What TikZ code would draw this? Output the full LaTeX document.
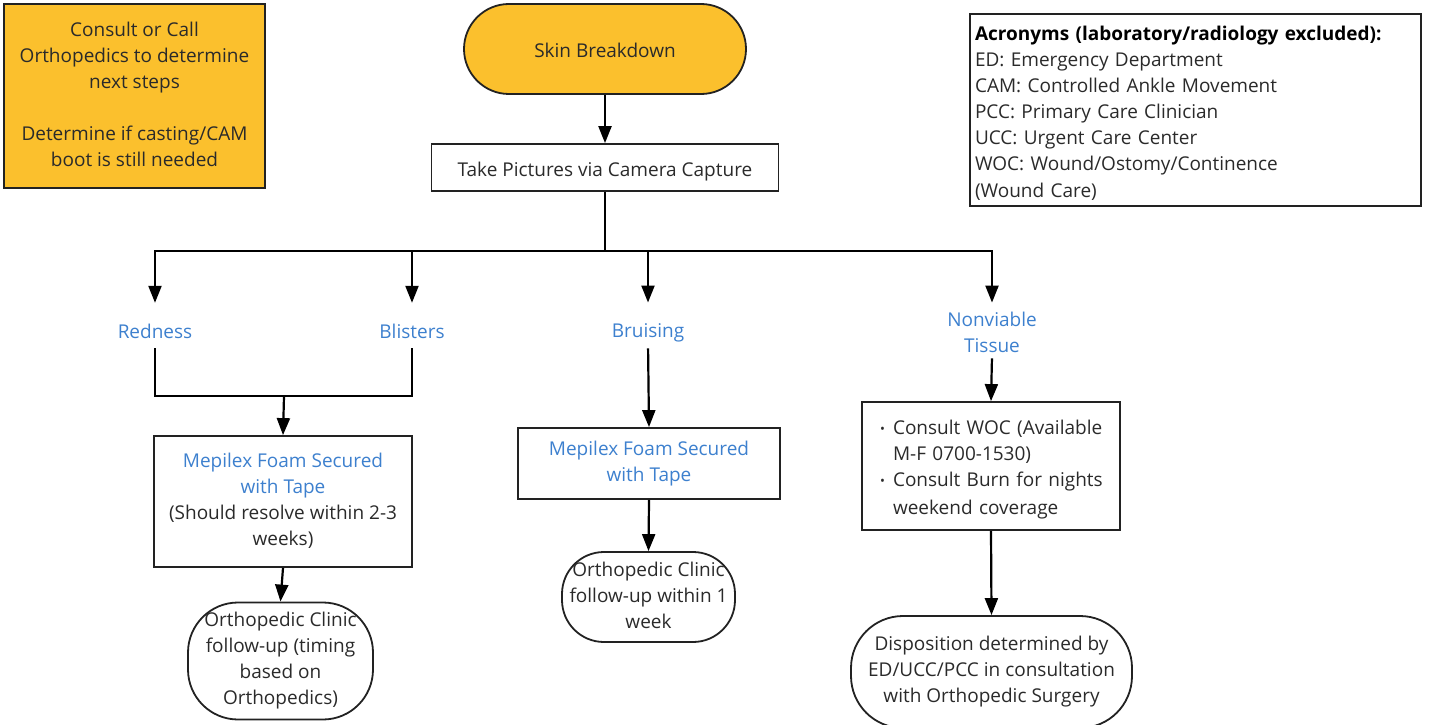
\documentclass[tikz,border=0pt]{standalone}
\usepackage{fontspec}
\setmainfont{Open Sans}
\usetikzlibrary{arrows.meta}
\definecolor{orng}{HTML}{FBC02D}
\definecolor{blu}{HTML}{3D80CE}
\definecolor{txt}{HTML}{2A2A2A}
\definecolor{edge}{HTML}{222222}
\newcommand{\skstrut}{\rule[-4pt]{0pt}{26pt}}
\newcommand{\bl}[1]{\textcolor{blu}{#1}}
\newcommand{\bul}{\hspace*{4pt}\makebox[13pt][l]{\raisebox{1.5pt}{\fontsize{13}{13}\selectfont •}}}
\newcommand{\ind}{\hspace*{17pt}}
\begin{document}
\begin{tikzpicture}[x=1pt,y=-1pt,
  every node/.style={font=\fontsize{19}{26}\selectfont, text=txt,
    execute at begin node=\skstrut, execute at end node=\skstrut},
  box/.style={draw=edge, line width=1.8pt, align=center, inner sep=0pt},
  lbl/.style={text=blu, align=center, inner sep=0pt},
  ln/.style={line width=2.2pt, draw=black},
  arr/.style={ln, -{Triangle[width=13pt,length=17pt]}}]
\useasboundingbox (0,0) rectangle (1429,725);

% top-left note
\node[box, fill=orng, minimum width=261pt, minimum height=184pt] (consult) at (134.5,96)
  {Consult or Call\\Orthopedics to determine\\next steps\\[26pt]Determine if casting/CAM\\boot is still needed};

% acronyms
\node[box, minimum width=451pt, minimum height=192pt, text width=441pt, align=left] (acr) at (1195.5,110)
  {\textbf{\color{black}Acronyms (laboratory/radiology excluded):}\\ED: Emergency Department\\CAM: Controlled Ankle Movement\\PCC: Primary Care Clinician\\UCC: Urgent Care Center\\WOC: Wound/Ostomy/Continence\\(Wound Care)};

% main flow
\node[box, fill=orng, rounded corners=45pt, minimum width=282pt, minimum height=90pt] (skin) at (605,49) {Skin Breakdown};
\node[box, minimum width=347pt, minimum height=47pt] (take) at (605,167.5) {Take Pictures via Camera Capture};

\coordinate (br) at (605,251);

\node[lbl] (red) at (155,329) {Redness};
\node[lbl] (blis) at (412,329) {Blisters};
\node[lbl] (brui) at (648,329) {Bruising};
\node[lbl] (nonv) at (992,334) {Nonviable\\Tissue};

\coordinate (mrg) at (284,396);

\node[box, minimum width=258pt, minimum height=131pt] (mep1) at (283,501.5)
  {\bl{Mepilex Foam Secured}\\\bl{with Tape}\\(Should resolve within 2-3\\weeks)};
\node[box, rounded corners=50pt, minimum width=185pt, minimum height=117pt] (orth1) at (280.5,661)
  {Orthopedic Clinic\\follow-up (timing\\based on\\Orthopedics)};

\node[box, minimum width=262pt, minimum height=71pt] (mep2) at (649,463.5)
  {\bl{Mepilex Foam Secured}\\\bl{with Tape}};
\node[box, rounded corners=42pt, minimum width=173pt, minimum height=90pt] (orth2) at (648.5,597)
  {Orthopedic Clinic\\follow-up within 1\\week};

\node[box, minimum width=258pt, minimum height=128pt, text width=230pt, align=left] (woc) at (991,466)
  {\bul Consult WOC (Available\\\ind M-F 0700-1530)\\\bul Consult Burn for nights\\\ind weekend coverage};
\node[box, rounded corners=52pt, minimum width=281pt, minimum height=112pt] (disp) at (991.5,672)
  {Disposition determined by\\ED/UCC/PCC in consultation\\with Orthopedic Surgery};

% connectors
\draw[arr] (skin.south) -- (take.north);
\draw[ln] (take.south) -- (br);
\draw[arr, shorten >=13pt] (br) -| (red.north);
\draw[arr, shorten >=13pt] (br) -| (blis.north);
\draw[arr, shorten >=13pt] (br) -| (brui.north);
\draw[arr, shorten >=9pt] (br) -| (nonv.north);

\draw[ln, shorten <=6pt] (red.south) |- (mrg);
\draw[ln, shorten <=6pt] (blis.south) |- (mrg);
\draw[arr] (mrg) -- (mep1.north);
\draw[arr] (mep1.south) -- (orth1.north);

\draw[arr, shorten <=6pt] (brui.south) -- (mep2.north);
\draw[arr] (mep2.south) -- (orth2.north);

\draw[arr, shorten <=2pt] (nonv.south) -- (woc.north);
\draw[arr] (woc.south) -- (disp.north);
\end{tikzpicture}
\end{document}
